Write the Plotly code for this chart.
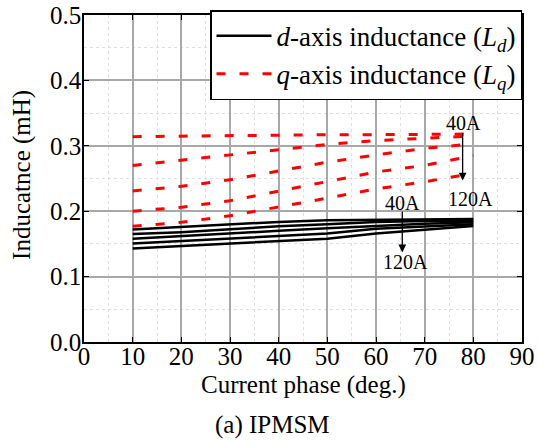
import plotly.graph_objects as go

phase = [10, 20, 30, 40, 50, 60, 70, 80]

# d-axis inductance (mH), 40A ... 120A
ld_series = [
    [0.172, 0.176, 0.180, 0.1836, 0.186, 0.187, 0.1875, 0.188],
    [0.165, 0.168, 0.1724, 0.177, 0.180, 0.1835, 0.185, 0.1855],
    [0.158, 0.1617, 0.166, 0.170, 0.174, 0.178, 0.181, 0.183],
    [0.1505, 0.1545, 0.158, 0.162, 0.166, 0.173, 0.177, 0.180],
    [0.143, 0.147, 0.1505, 0.1545, 0.158, 0.166, 0.172, 0.1775],
]

# q-axis inductance (mH), 40A ... 120A
lq_series = [
    [0.314, 0.315, 0.315, 0.316, 0.317, 0.317, 0.318, 0.318],
    [0.270, 0.278, 0.286, 0.294, 0.302, 0.308, 0.312, 0.315],
    [0.231, 0.238, 0.248, 0.262, 0.275, 0.286, 0.296, 0.303],
    [0.200, 0.206, 0.216, 0.231, 0.246, 0.260, 0.270, 0.285],
    [0.177, 0.183, 0.193, 0.206, 0.220, 0.234, 0.245, 0.258],
]

x_ticks = [0, 10, 20, 30, 40, 50, 60, 70, 80, 90]
y_ticks = [0.0, 0.1, 0.2, 0.3, 0.4, 0.5]
y_tick_text = ["0.0", "0.1", "0.2", "0.3", "0.4", "0.5"]

FONT = "Liberation Serif"

fig = go.Figure()

for i, s in enumerate(ld_series):
    fig.add_trace(go.Scatter(
        x=phase, y=s, mode="lines",
        line=dict(color="black", width=2.5),
        name="<i>d</i>-axis inductance (<i>L</i><sub><i>d</i></sub>)",
        legendgroup="d", showlegend=(i == 0),
    ))

for i, s in enumerate(lq_series):
    fig.add_trace(go.Scatter(
        x=phase, y=s, mode="lines",
        line=dict(color="red", width=3, dash="9px,14px"),
        name="<i>q</i>-axis inductance (<i>L</i><sub><i>q</i></sub>)",
        legendgroup="q", showlegend=(i == 0),
    ))

def axis_common():
    return dict(
        showline=True, linecolor="black", linewidth=1.5, mirror="ticks",
        ticks="inside", ticklen=5, tickcolor="black", tickwidth=1,
        showgrid=True, gridcolor="#a8a8a8", gridwidth=1.5,
        zeroline=False,
        tickfont=dict(family=FONT, size=25, color="black"),
    )

fig.update_xaxes(
    range=[0, 90], tickvals=x_ticks, ticklabelstandoff=-9,
    minor=dict(dtick=5, showgrid=True, gridcolor="#e0e0e0", griddash="dot", gridwidth=1, ticks=""),
    **axis_common(),
)
fig.update_yaxes(
    range=[0, 0.5], tickvals=y_ticks, ticktext=y_tick_text, ticklabelstandoff=-4,
    minor=dict(dtick=0.05, showgrid=True, gridcolor="#e0e0e0", griddash="dot", gridwidth=1, ticks=""),
    **axis_common(),
)

annots = [
    dict(x=78.0, y=0.335, text="40A", showarrow=False, xref="x", yref="y"),
    dict(x=79.5, y=0.218, text="120A", showarrow=False, xref="x", yref="y"),
    dict(x=65.5, y=0.213, text="40A", showarrow=False, xref="x", yref="y"),
    dict(x=66.1, y=0.122, text="120A", showarrow=False, xref="x", yref="y"),
    dict(x=77.8, y=0.247, ax=77.8, ay=0.322, axref="x", ayref="y", xref="x", yref="y",
         text="", showarrow=True, arrowhead=2, arrowsize=1.2, arrowwidth=1.3, arrowcolor="black"),
    dict(x=65.4, y=0.137, ax=65.4, ay=0.2015, axref="x", ayref="y", xref="x", yref="y",
         text="", showarrow=True, arrowhead=2, arrowsize=1.2, arrowwidth=1.3, arrowcolor="black"),
    dict(x=0.5, y=-0.133, xref="paper", yref="paper", text="Current phase (deg.)", showarrow=False,
         xanchor="center", yanchor="middle", font=dict(family=FONT, size=25, color="black")),
    dict(x=0.43, y=-0.255, xref="paper", yref="paper", text="(a) IPMSM", showarrow=False,
         xanchor="center", yanchor="middle", font=dict(family=FONT, size=25, color="black")),
    dict(x=-0.14, y=0.51, xref="paper", yref="paper", text="Inducatnce (mH)", showarrow=False,
         xanchor="center", yanchor="middle", textangle=-90,
         font=dict(family=FONT, size=25, color="black")),
]
for a in annots:
    a.setdefault("font", dict(family=FONT, size=20, color="black"))
    a.setdefault("xanchor", "center")
    a.setdefault("yanchor", "middle")
    fig.add_annotation(**a)

fig.update_layout(
    width=538, height=441,
    margin=dict(l=83.5, r=15.5, t=15, b=99.4, autoexpand=False),
    paper_bgcolor="white", plot_bgcolor="white",
    font=dict(family=FONT, color="black"),
    legend=dict(
        x=1.0, y=1.015, xanchor="right", yanchor="top",
        bgcolor="white", bordercolor="black", borderwidth=1.5,
        font=dict(family=FONT, size=27, color="black"),
        itemwidth=55, tracegroupgap=0,
    ),
)

fig.write_html("out.html")
